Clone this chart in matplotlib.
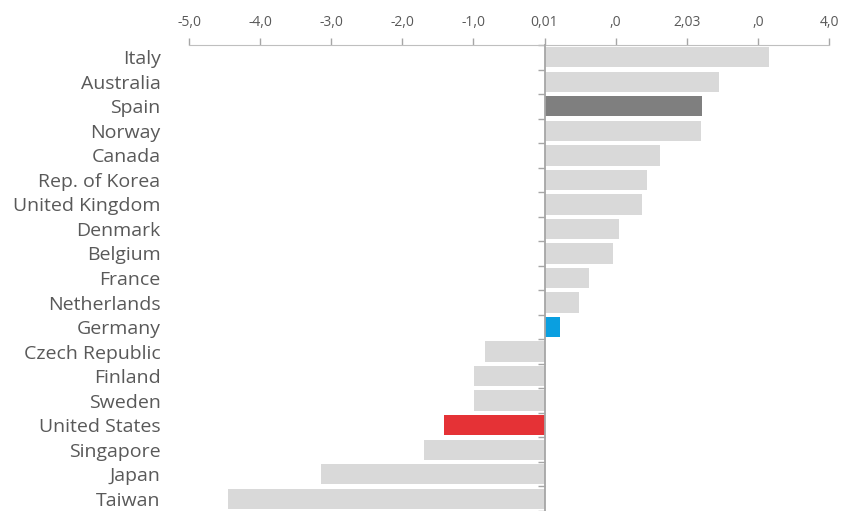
import matplotlib
matplotlib.use('Agg')
import matplotlib.pyplot as plt
import numpy as np

countries = ['Italy', 'Australia', 'Spain', 'Norway', 'Canada', 'Rep. of Korea',
             'United Kingdom', 'Denmark', 'Belgium', 'France', 'Netherlands',
             'Germany', 'Czech Republic', 'Finland', 'Sweden', 'United States',
             'Singapore', 'Japan', 'Taiwan']
values = [3.16, 2.46, 2.22, 2.20, 1.62, 1.44, 1.37, 1.05, 0.96, 0.62, 0.48,
          0.22, -0.84, -0.99, -0.99, -1.41, -1.69, -3.15, -4.45]
xticks = [-5, -4, -3, -2, -1, 0, 1, 2, 3, 4]
xticklabels = ['-5,0', '-4,0', '-3,0', '-2,0', '-1,0', '0,01', ',0', '2,03', ',0', '4,0']
highlight = {'Spain': '#7f7f7f', 'Germany': '#0a9fe0', 'United States': '#e53236'}

plt.rcParams['font.family'] = ['Open Sans', 'DejaVu Sans']

fig = plt.figure(figsize=(8.43, 5.11), dpi=100)
ax = fig.add_axes([189 / 843, 0.0, (829 - 189) / 843, 1 - 45 / 511])

y = np.arange(len(countries))
colors = [highlight.get(c, '#d9d9d9') for c in countries]
ax.barh(y, values, height=0.83, color=colors, zorder=2)

ax.set_xlim(-5, 4)
ax.set_ylim(18.24, -0.48)

ax.xaxis.tick_top()
ax.set_xticks(xticks)
ax.set_xticklabels(xticklabels)
ax.tick_params(axis='x', which='major', length=5, width=1, color='#a6a6a6', pad=6,
               labelsize=10, labelcolor='#595959')

ax.set_yticks(y)
ax.set_yticklabels(countries)
ax.set_yticks(np.arange(len(countries) + 1) - 0.5, minor=True)
ax.tick_params(axis='y', which='major', left=False, right=False, pad=17,
               labelsize=14, labelcolor='#595959')
ax.tick_params(axis='y', which='minor', left=False, right=True, direction='in',
               length=5, width=1, color='#a6a6a6')

for s in ['left', 'bottom']:
    ax.spines[s].set_visible(False)
ax.spines['top'].set_color('#bfbfbf')
ax.spines['right'].set_position(('data', 0))
ax.spines['right'].set_color('#a6a6a6')
ax.spines['right'].set_linewidth(1.3)
ax.spines['right'].set_zorder(3)

fig.savefig('out.png', dpi=100)
